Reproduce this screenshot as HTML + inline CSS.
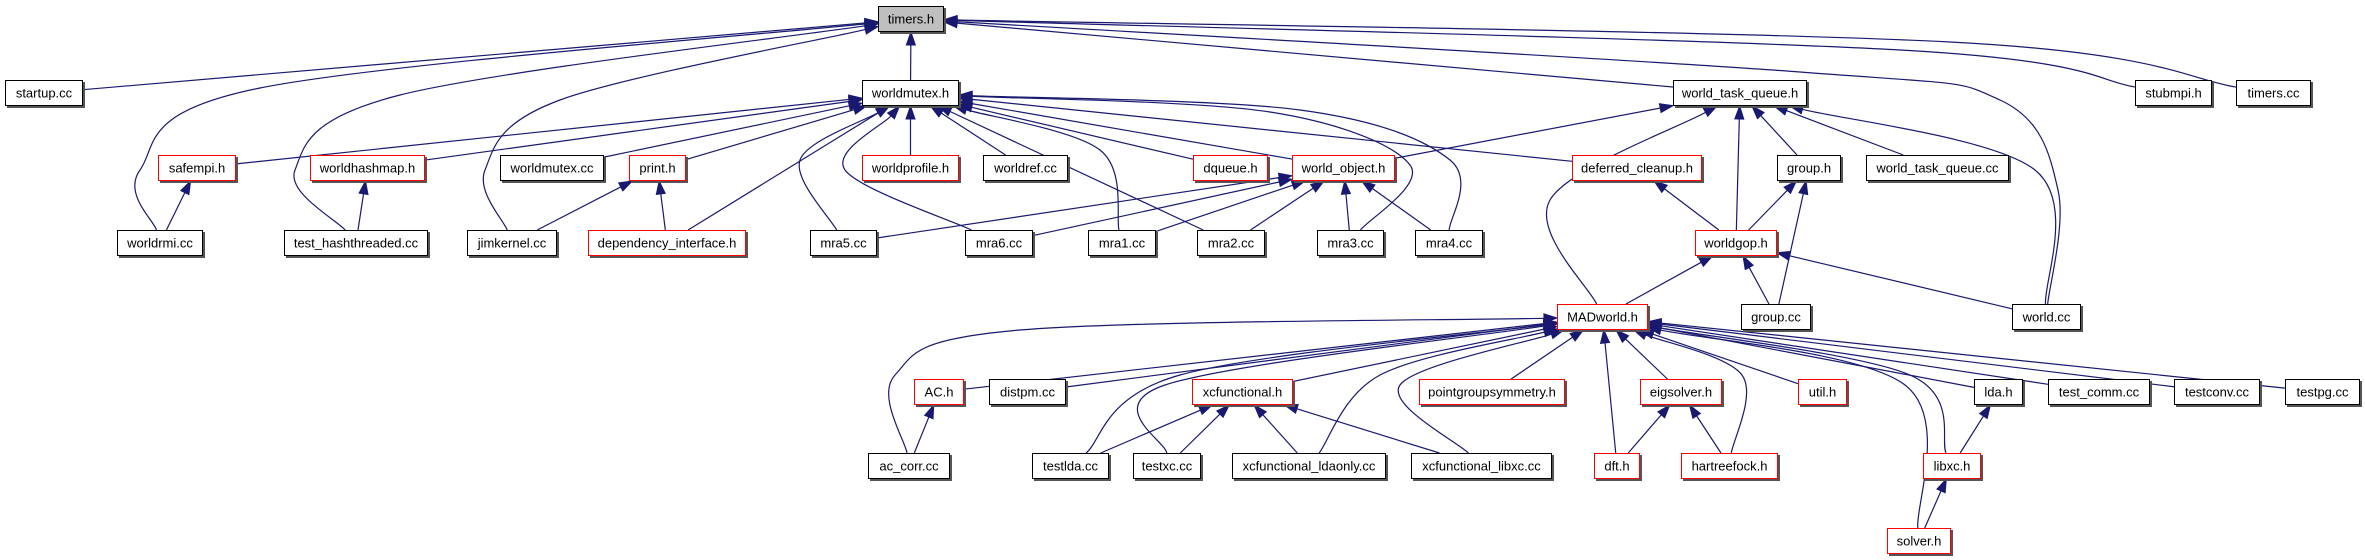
<!DOCTYPE html>
<html><head><meta charset="utf-8"><style>
html,body{margin:0;padding:0;background:#fff}
svg{display:block}
text{font-family:"Liberation Sans",sans-serif;font-size:13px}
</style></head><body>
<svg id="g" width="2365" height="560" viewBox="0 0 2365 560" xmlns="http://www.w3.org/2000/svg">
<g id="edges"></g>
<g id="nodes"></g>
</svg>
<script>
const nodeNames=["timers.h","startup.cc","worldmutex.h","world_task_queue.h","stubmpi.h","timers.cc",
"safempi.h","worldhashmap.h","worldmutex.cc","print.h","worldprofile.h","worldref.cc","dqueue.h","world_object.h","deferred_cleanup.h","group.h","world_task_queue.cc",
"worldrmi.cc","test_hashthreaded.cc","jimkernel.cc","dependency_interface.h","mra5.cc","mra6.cc","mra1.cc","mra2.cc","mra3.cc","mra4.cc","worldgop.h",
"MADworld.h","group.cc","world.cc",
"AC.h","distpm.cc","xcfunctional.h","pointgroupsymmetry.h","eigsolver.h","util.h","lda.h","test_comm.cc","testconv.cc","testpg.cc",
"ac_corr.cc","testlda.cc","testxc.cc","xcfunctional_ldaonly.cc","xcfunctional_libxc.cc","dft.h","hartreefock.h","libxc.h","solver.h"];
const nodeX1=[878,5,862,1673,2135,2236, 158,310,500,629,862,983,1193,1292,1572,1777,1866, 117,284,467,588,810,965,1088,1197,1317,1415,1695, 1557,1741,2012, 914,989,1192,1419,1640,1798,1974,2048,2174,2285, 868,1032,1133,1232,1411,1594,1681,1923,1887];
const nodeX2=[944,83,959,1807,2212,2311, 236,425,604,686,959,1068,1268,1395,1702,1841,2009, 203,428,557,746,877,1033,1156,1265,1384,1483,1777, 1648,1811,2081, 964,1066,1293,1565,1722,1847,2023,2150,2260,2360, 950,1109,1201,1386,1552,1640,1778,1981,1951];
const nodeY=[6,80,80,80,80,80, 155,155,155,155,155,155,155,155,155,155,155, 230,230,230,230,230,230,230,230,230,230,230, 304,304,304, 379,379,379,379,379,379,379,379,379,379, 453,453,453,453,453,453,453,453,528];
const nodeKind="gnnnnnrrnrrnrrrnnnnnrnnnnnnrrnnrnrrrrnnnnnnnnnrrrr";
const edgeFrom=["startup.cc","worldmutex.h","world_task_queue.h","stubmpi.h","timers.cc","worldrmi.cc","test_hashthreaded.cc","jimkernel.cc","world.cc",
"safempi.h","worldhashmap.h","worldmutex.cc","print.h","dependency_interface.h","mra5.cc","mra6.cc","worldprofile.h","worldref.cc","dqueue.h","deferred_cleanup.h","mra1.cc","mra2.cc","mra3.cc","mra4.cc","world_object.h",
"worldrmi.cc","test_hashthreaded.cc","jimkernel.cc","dependency_interface.h",
"mra5.cc","mra6.cc","mra1.cc","mra2.cc","mra3.cc","mra4.cc",
"world_object.h","MADworld.h","worldgop.h","group.h","world_task_queue.cc","world.cc",
"worldgop.h","worldgop.h","group.cc","MADworld.h","group.cc","world.cc",
"AC.h","ac_corr.cc","distpm.cc","testlda.cc","testxc.cc","xcfunctional.h","xcfunctional_ldaonly.cc","xcfunctional_libxc.cc","pointgroupsymmetry.h","dft.h","eigsolver.h","hartreefock.h","util.h","solver.h","libxc.h","lda.h","test_comm.cc","testconv.cc","testpg.cc",
"ac_corr.cc","testlda.cc","testxc.cc","xcfunctional_ldaonly.cc","xcfunctional_libxc.cc","dft.h","hartreefock.h","libxc.h","solver.h"];
const edgeTo=["timers.h","timers.h","timers.h","timers.h","timers.h","timers.h","timers.h","timers.h","timers.h",
"worldmutex.h","worldmutex.h","worldmutex.h","worldmutex.h","worldmutex.h","worldmutex.h","worldmutex.h","worldmutex.h","worldmutex.h","worldmutex.h","worldmutex.h","worldmutex.h","worldmutex.h","worldmutex.h","worldmutex.h","world_task_queue.h",
"safempi.h","worldhashmap.h","print.h","print.h",
"world_object.h","world_object.h","world_object.h","world_object.h","world_object.h","world_object.h",
"worldmutex.h","world_task_queue.h","world_task_queue.h","world_task_queue.h","world_task_queue.h","world_task_queue.h",
"deferred_cleanup.h","group.h","group.h","worldgop.h","worldgop.h","worldgop.h",
"MADworld.h","MADworld.h","MADworld.h","MADworld.h","MADworld.h","MADworld.h","MADworld.h","MADworld.h","MADworld.h","MADworld.h","MADworld.h","MADworld.h","MADworld.h","MADworld.h","MADworld.h","MADworld.h","MADworld.h","MADworld.h","MADworld.h",
"AC.h","xcfunctional.h","xcfunctional.h","xcfunctional.h","xcfunctional.h","eigsolver.h","eigsolver.h","lda.h","libxc.h"];
const edgeVia={
"worldrmi.cc>timers.h":[[140,170],[260,88]],
"test_hashthreaded.cc>timers.h":[[295,170],[400,95]],
"jimkernel.cc>timers.h":[[485,170],[560,100]],
"world.cc>timers.h":[[2058,190],[2000,100],[1800,72]],
"stubmpi.h>timers.h":[[1900,50]],
"timers.cc>timers.h":[[1950,42]],
"mra5.cc>worldmutex.h":[[800,160]],
"mra6.cc>worldmutex.h":[[845,170]],
"mra1.cc>worldmutex.h":[[1100,150]],
"mra3.cc>worldmutex.h":[[1410,165],[1270,112]],
"mra4.cc>worldmutex.h":[[1450,160],[1300,110]],
"MADworld.h>world_task_queue.h":[[1550,200]],
"world.cc>world_task_queue.h":[[2035,170]],
"ac_corr.cc>MADworld.h":[[895,375],[1020,330]],
"testlda.cc>MADworld.h":[[1180,375]],
"testxc.cc>MADworld.h":[[1165,385]],
"xcfunctional_ldaonly.cc>MADworld.h":[[1380,375]],
"xcfunctional_libxc.cc>MADworld.h":[[1400,385]],
"hartreefock.h>MADworld.h":[[1742,375]],
"solver.h>MADworld.h":[[1905,385]],
"libxc.h>MADworld.h":[[1910,375]]
};
const H=26, NS="http://www.w3.org/2000/svg";
const svg=document.getElementById('g'), eg=document.getElementById('edges'), ng=document.getElementById('nodes');
function idx(n){return nodeNames.indexOf(n);}
function slug(s){return s.replace(/[^a-zA-Z0-9]+/g,'-').toLowerCase();}
function mk(t,a,p){const e=document.createElementNS(NS,t);for(const k in a)e.setAttribute(k,a[k]);p.appendChild(e);return e;}
nodeNames.forEach((n,i)=>{
  const x1=nodeX1[i],x2=nodeX2[i],y=nodeY[i],k=nodeKind[i];
  const g=mk('g',{},ng);
  
  
  mk('rect',{x:x1+2,y:y+2,width:x2-x1,height:H,fill:'#555'},g);
  mk('rect',{x:x1+0.5,y:y+0.5,width:x2-x1-1,height:H-1,fill:k=='g'?'#bfbfbf':'#fff',stroke:k=='r'?'#ff0000':'#000','stroke-width':1},g);
  const t=mk('text',{x:(x1+x2)/2,y:y+H/2+4.5,'text-anchor':'middle',fill:'#000'},g);
  t.textContent=n;
  
  
});
function boxHit(i,px,py){
  const cx=(nodeX1[i]+nodeX2[i])/2, cy=nodeY[i]+H/2, hw=(nodeX2[i]-nodeX1[i])/2, hh=H/2;
  const dx=px-cx, dy=py-cy; const s=Math.min(Math.abs(hw/(dx||1e-9)),Math.abs(hh/(dy||1e-9)));
  return [cx+dx*s, cy+dy*s];
}
edgeFrom.forEach((f,j)=>{
  const a=idx(f), b=idx(edgeTo[j]); const via=edgeVia[f+'>'+edgeTo[j]]||[];
  const bc=[(nodeX1[b]+nodeX2[b])/2, nodeY[b]+H/2];
  const first=via.length?via[0]:bc;
  const start=boxHit(a,first[0],first[1]);
  const last=via.length?via[via.length-1]:[ (nodeX1[a]+nodeX2[a])/2, nodeY[a]+H/2 ];
  const end=boxHit(b,last[0],last[1]);
  const pts=[start,...via,end];
  const pv=pts[pts.length-2]; let ux=end[0]-pv[0], uy=end[1]-pv[1]; const L=Math.hypot(ux,uy)||1; ux/=L; uy/=L;
  const tip=end, base=[end[0]-ux*13,end[1]-uy*13];
  pts[pts.length-1]=base;
  let d='M'+pts[0][0]+','+pts[0][1];
  if(pts.length==2){d+=' L'+base[0]+','+base[1];}
  else{
    for(let i=0;i<pts.length-1;i++){
      const p0=pts[Math.max(0,i-1)],p1=pts[i],p2=pts[i+1],p3=pts[Math.min(pts.length-1,i+2)];
      const c1=[p1[0]+(p2[0]-p0[0])/6,p1[1]+(p2[1]-p0[1])/6], c2=[p2[0]-(p3[0]-p1[0])/6,p2[1]-(p3[1]-p1[1])/6];
      d+=' C'+c1+' '+c2+' '+p2;
    }
  }
  const p=mk('path',{d:d,fill:'none',stroke:'#191970','stroke-width':1.2},eg);
  
  
  const nx=-uy*4.5, ny=ux*4.5;
  const ah=mk('polygon',{points:tip[0]+','+tip[1]+' '+(base[0]+nx)+','+(base[1]+ny)+' '+(base[0]-nx)+','+(base[1]-ny),fill:'#191970',stroke:'#191970'},eg);
  
  
});
</script>
</body></html>
